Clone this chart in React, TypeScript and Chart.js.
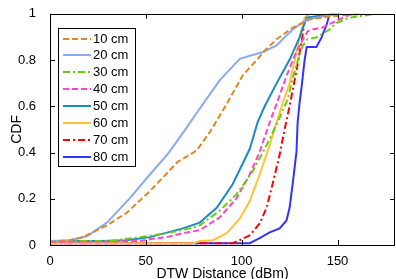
import React, { useEffect, useRef } from "react";
import { Chart, registerables } from "chart.js";

Chart.register(...registerables);

const seriesLabels = ["10 cm", "20 cm", "30 cm", "40 cm", "50 cm", "60 cm", "70 cm", "80 cm"];
const seriesColors = ["#DD8822", "#88AAF0", "#66CC11", "#FF44CC", "#1B8BC4", "#FFC23A", "#FF0000", "#3333FF"];
const xTicks = [0, 50, 100, 150];
const yTicks = [0, 0.2, 0.4, 0.6, 0.8, 1];

const x10 = [0, 10.4, 17.2, 24.5, 29.7, 40.1, 52.1, 66.7, 72.9, 76.6, 83.3, 92.2, 100.5, 107.8, 112, 118.2, 126.6, 135.4, 144.3, 161.5];
const y10 = [0.013, 0.021, 0.034, 0.064, 0.085, 0.14, 0.233, 0.36, 0.39, 0.41, 0.487, 0.61, 0.733, 0.8, 0.84, 0.89, 0.94, 0.975, 0.987, 1.0];

const x20 = [0, 10.4, 15.6, 19.3, 29.7, 41.7, 52.1, 61.5, 70.3, 76.6, 88.5, 99, 111, 118, 126.6, 133.9, 147, 152];
const y20 = [0.017, 0.021, 0.03, 0.038, 0.097, 0.203, 0.305, 0.394, 0.496, 0.572, 0.712, 0.805, 0.835, 0.862, 0.932, 0.975, 0.996, 1.0];

const x30 = [0, 31.3, 46.9, 60.9, 72.9, 78.1, 88.5, 97.4, 105.7, 113, 119.8, 124, 126.6, 129.2, 131.8, 134.4, 139, 145.8, 149.5, 156.3, 166.7, 170];
const y30 = [0.017, 0.017, 0.034, 0.051, 0.072, 0.085, 0.148, 0.22, 0.318, 0.432, 0.55, 0.63, 0.72, 0.797, 0.86, 0.89, 0.898, 0.932, 0.96, 0.983, 0.996, 1.0];

const x40 = [0, 46.9, 52.1, 60.9, 69.3, 78.1, 88.5, 97.4, 104.2, 109.4, 114.6, 118.2, 123.4, 127.6, 131.8, 134.4, 137, 142.2, 149.5, 156.3, 164];
const y40 = [0.013, 0.017, 0.025, 0.034, 0.051, 0.064, 0.119, 0.203, 0.305, 0.403, 0.53, 0.61, 0.731, 0.818, 0.887, 0.924, 0.932, 0.941, 0.97, 0.996, 1.0];

const x50 = [0, 26, 40.1, 52.1, 69.3, 78.1, 87, 95.3, 104.2, 108.3, 112, 118.2, 125, 130.2, 133.9, 144.3, 151];
const y50 = [0.017, 0.017, 0.021, 0.034, 0.072, 0.097, 0.161, 0.263, 0.415, 0.53, 0.6, 0.699, 0.801, 0.898, 0.983, 0.996, 1.0];

const x60 = [0, 75, 78, 85, 92.2, 99, 104.2, 109.4, 114.6, 118.2, 121.4, 125, 127.6, 130.2, 132.8, 135.4];
const y60 = [0.008, 0.008, 0.017, 0.021, 0.051, 0.114, 0.19, 0.305, 0.432, 0.53, 0.614, 0.699, 0.797, 0.898, 0.983, 1.0];

const x70 = [0, 95.3, 99, 104.2, 109.4, 113, 116.1, 119.8, 122.4, 125, 128.6, 131.3, 132.8, 134.4, 136.5];
const y70 = [0.008, 0.008, 0.021, 0.042, 0.093, 0.161, 0.263, 0.39, 0.5, 0.6, 0.754, 0.881, 0.966, 0.996, 1.0];

const x80 = [0, 104.2, 109.4, 114.6, 119.8, 123.4, 125, 126.6, 128.6, 129.2, 130.2, 131.3, 132.8, 133.9, 139, 141.7, 144.3, 145.8, 148.4];
const y80 = [0.008, 0.008, 0.03, 0.055, 0.072, 0.106, 0.161, 0.263, 0.403, 0.53, 0.614, 0.686, 0.797, 0.856, 0.856, 0.898, 0.953, 0.996, 1.0];

const seriesX = [x10, x20, x30, x40, x50, x60, x70, x80];
const seriesY = [y10, y20, y30, y40, y50, y60, y70, y80];
const DASHED = [6, 3];
const DASHDOT = [7, 3, 2, 3];
const seriesDash = [DASHED, [], DASHDOT, DASHED, [], [], DASHDOT, []];

const FONT = "'Liberation Sans', Arial, Helvetica, sans-serif";

const framePlugin = {
  id: "frameTicksLegend",
  afterDatasetsDraw(chart: any) {
    const { ctx, chartArea: a, scales } = chart;
    const xs = scales.x;
    const ys = scales.y;
    ctx.save();
    ctx.strokeStyle = "#000";
    ctx.lineWidth = 1;
    ctx.setLineDash([]);
    ctx.strokeRect(Math.round(a.left) + 0.5, Math.round(a.top) + 0.5, Math.round(a.right - a.left) - 1, Math.round(a.bottom - a.top));
    const tl = 5;
    ctx.beginPath();
    xTicks.forEach((v) => {
      const px = Math.round(xs.getPixelForValue(v)) + 0.5;
      ctx.moveTo(px, a.bottom);
      ctx.lineTo(px, a.bottom - tl);
      ctx.moveTo(px, a.top);
      ctx.lineTo(px, a.top + tl);
    });
    yTicks.forEach((v) => {
      const py = Math.round(ys.getPixelForValue(v)) + 0.5;
      ctx.moveTo(a.left, py);
      ctx.lineTo(a.left + tl, py);
      ctx.moveTo(a.right, py);
      ctx.lineTo(a.right - tl, py);
    });
    ctx.stroke();

    // legend
    const bx = 58.5, by = 28.5, bw = 77, bh = 138;
    ctx.fillStyle = "#fff";
    ctx.fillRect(bx, by, bw, bh);
    ctx.strokeStyle = "#000";
    ctx.strokeRect(bx, by, bw, bh);
    ctx.font = "13px " + FONT;
    ctx.textBaseline = "middle";
    ctx.textAlign = "left";
    chart.data.datasets.forEach((ds: any, i: number) => {
      const y = 38.5 + i * 16.9;
      ctx.strokeStyle = ds.borderColor;
      ctx.lineWidth = 2;
      ctx.setLineDash(ds.borderDash || []);
      ctx.beginPath();
      ctx.moveTo(63, Math.round(y));
      ctx.lineTo(91, Math.round(y));
      ctx.stroke();
      ctx.setLineDash([]);
      ctx.fillStyle = "#000";
      ctx.fillText(ds.label, 93, y + 0.5);
    });
    ctx.restore();
  },
};

export default function App() {
  const ref = useRef<HTMLCanvasElement | null>(null);
  useEffect(() => {
    if (!ref.current) return;
    const datasets = seriesLabels.map((label, i) => ({
      label,
      data: seriesX[i].map((x, j) => ({ x, y: seriesY[i][j] })),
      borderColor: seriesColors[i],
      backgroundColor: seriesColors[i],
      borderWidth: 2,
      borderDash: seriesDash[i],
      pointRadius: 0,
      tension: 0,
      fill: false,
    }));
    const chart = new Chart(ref.current, {
      type: "line",
      data: { datasets },
      options: {
        animation: false,
        responsive: false,
        devicePixelRatio: 1,
        layout: { padding: { left: 0, right: 1, top: 9, bottom: 0 } },
        plugins: { legend: { display: false }, tooltip: { enabled: false } },
        scales: {
          x: {
            type: "linear",
            min: 0,
            max: 180,
            grid: { display: false },
            border: { display: false },
            afterFit: (s: any) => { s.height = 34; },
            afterBuildTicks: (s: any) => { s.ticks = xTicks.map((v) => ({ value: v })); },
            ticks: { color: "#000", font: { family: FONT, size: 13 }, padding: 1, maxRotation: 0, autoSkip: false },
            title: { display: true, text: "DTW Distance (dBm)", color: "#000", font: { family: FONT, size: 14, lineHeight: 1 }, padding: { top: 0, bottom: -2 } },
          },
          y: {
            type: "linear",
            min: 0,
            max: 1,
            grid: { display: false },
            border: { display: false },
            afterFit: (s: any) => { s.width = 50; },
            afterBuildTicks: (s: any) => { s.ticks = yTicks.map((v) => ({ value: v })); },
            ticks: {
              color: "#000",
              font: { family: FONT, size: 13 },
              padding: 6,
              autoSkip: false,
              callback: (v: any) => String(Number(Number(v).toFixed(1))),
            },
            title: { display: true, text: "CDF", color: "#000", font: { family: FONT, size: 14, lineHeight: 1 }, padding: { top: 10, bottom: 0 } },
          },
        },
      },
      plugins: [framePlugin],
    } as any);
    return () => chart.destroy();
  }, []);
  return (
    <div style={{ position: "absolute", left: 0, top: 0, width: 396, height: 279, overflow: "hidden", background: "#fff" }}>
      <canvas ref={ref} width={396} height={279} style={{ width: 396, height: 279, display: "block" }} />
    </div>
  );
}
